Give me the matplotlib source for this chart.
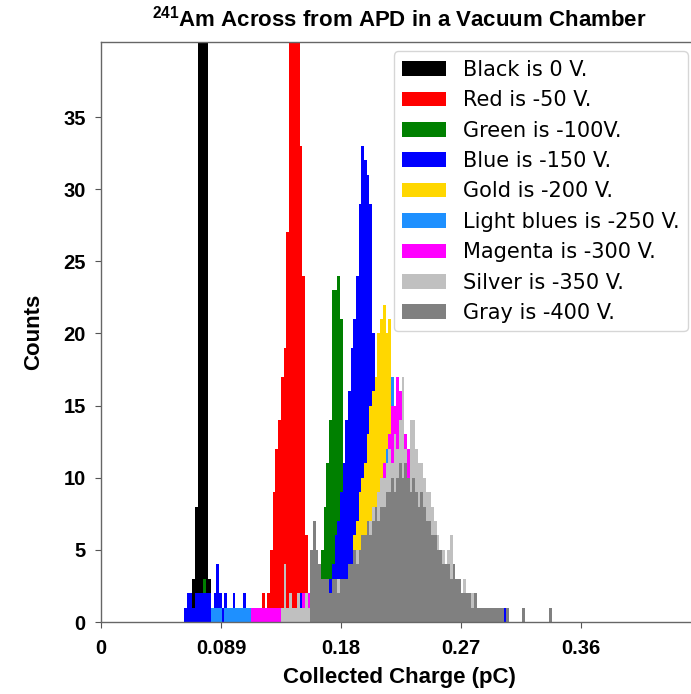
import matplotlib
matplotlib.use("Agg")
import matplotlib.pyplot as plt

plt.rcParams["mathtext.fontset"] = "custom"
plt.rcParams["mathtext.rm"] = "Liberation Sans:bold"
plt.rcParams["mathtext.bf"] = "Liberation Sans:bold"

BIN = 0.002  # histogram bin width (pC)

labels = ["Black is 0 V.", "Red is -50 V.", "Green is -100V.", "Blue is -150 V.",
          "Gold is -200 V.", "Light blues is -250 V.", "Magenta is -300 V.",
          "Silver is -350 V.", "Gray is -400 V."]
colors = ["black", "red", "green", "blue", "gold", "dodgerblue", "magenta",
          "silver", "gray"]

# counts per bin, given as (left edge of first bin, counts) pieces
black = [(0.066, [1, 3, 8, 44, 75, 62, 42, 3])]
red = [(0.114, [1, 0, 1, 2, 1, 2, 5, 9, 12, 14, 17, 19, 27, 48, 63, 58, 45,
                33, 24, 6, 2])]
green = [(0.076, [3]),
         (0.154, [2, 2, 1, 1, 2, 5, 8, 11, 14, 23, 23, 24, 21, 3, 1])]
blue = [(0.062, [1, 2, 2, 1, 2, 2, 2, 2, 2, 2, 1, 2, 4, 2, 1, 2, 1, 1, 2, 1,
                 1, 1, 2, 1, 1, 1, 0, 1, 1, 0, 1, 1, 1, 0, 1, 1, 1, 1, 0, 1,
                 1, 1, 1, 2, 1, 2, 2, 1, 2, 1, 2, 2]),
        (0.166, [2, 3, 3, 4, 6, 7, 9, 11, 14, 16, 19, 21, 24, 29, 33, 32, 31,
                 29, 20, 5, 1]),
        (0.300, [1])]
gold = [(0.182, [2, 3, 4, 6, 7, 9, 10, 11, 13, 15, 16, 17, 20, 21, 22, 20, 21,
                 15, 5, 2])]
light_blue = [(0.082, [1, 1, 1, 1, 0, 1, 1, 1, 1, 1, 1, 1, 1, 1, 1]),
              (0.196, [2, 3, 4, 5, 6, 8, 9, 10, 12, 13, 17, 13, 12, 10, 8, 6,
                       4, 2, 1])]
magenta = [(0.112, [1, 1, 1, 1, 1, 1, 1, 1, 1, 1, 1]),
           (0.150, [2, 0, 2]),
           (0.188, [1, 2, 2, 3, 4, 5, 6, 7, 8, 9, 10, 11, 11, 13, 15, 15, 17,
                    16, 13, 13, 12, 7, 4, 2, 1])]
silver = [(0.134, [1, 4, 1, 2, 1, 1, 2, 1, 1, 2, 1,
                   1, 1, 2, 1, 2, 2, 3, 2, 3, 2,
                   3, 3, 3, 3, 4, 4, 5, 5, 5, 6,
                   6, 7, 7, 8, 8, 9, 10, 10, 11, 12,
                   11, 13, 12, 14, 17, 12, 10, 14, 14, 12,
                   11, 11, 10, 9, 9, 8, 7, 6, 5, 5,
                   4, 5, 6, 4, 3, 3, 2, 3, 2, 1,
                   2, 1, 1, 0, 1])]
gray = [(0.156, [5, 7, 5, 4, 3, 3, 3, 2, 3, 3,
                 2, 3, 3, 3, 4, 4, 5, 4, 5, 6,
                 6, 7, 6, 7, 8, 7, 8, 8, 9, 9,
                 10, 9, 10, 11, 10, 11, 10, 9, 10, 9,
                 8, 9, 8, 7, 7, 6, 6, 5, 5, 4,
                 4, 4, 3, 4, 3, 3, 2, 2, 2, 2,
                 1, 2, 1, 1, 1, 1, 1, 1, 1, 1,
                 1, 1, 0, 1]),
        (0.314, [1]),
        (0.334, [1])]

series = [black, red, green, blue, gold, light_blue, magenta, silver, gray]

xticks = [0, 0.0894, 0.1788, 0.2682, 0.3576]
xtick_labels = ["0", "0.089", "0.18", "0.27", "0.36"]
yticks = [0, 5, 10, 15, 20, 25, 30, 35]

fig = plt.figure(figsize=(6.91, 6.94), dpi=100)
ax = fig.add_axes([101 / 691, 72 / 694, 596 / 691, 580 / 694])

for pieces, c, lab in zip(series, colors, labels):
    xs, hs = [], []
    for start, counts in pieces:
        for i, n in enumerate(counts):
            xs.append(start + i * BIN)
            hs.append(n)
    ax.bar(xs, hs, width=BIN, align="edge", color=c, linewidth=0, label=lab)

ax.set_xlim(0, 0.4441)
ax.set_ylim(0, 40.2)
ax.set_xticks(xticks)
ax.set_xticklabels(xtick_labels)
ax.set_yticks(yticks)

bold = {"family": "Liberation Sans", "weight": "bold"}
for t in ax.get_xticklabels() + ax.get_yticklabels():
    t.set_fontfamily("Liberation Sans")
    t.set_fontweight("bold")
    t.set_fontsize(14.5)
ax.tick_params(axis="x", length=4, pad=8, color="#555555")
ax.tick_params(axis="y", length=4, pad=7, color="#555555")
for s in ax.spines.values():
    s.set_color("#666666")
    s.set_linewidth(1)

ax.set_xlabel("Collected Charge (pC)", fontdict=bold, fontsize=16, labelpad=7)
ax.set_ylabel("Counts", fontdict=bold, fontsize=16, labelpad=14)
ax.set_title(r"$^{\mathbf{241}}$Am Across from APD in a Vacuum Chamber",
             fontdict=bold, fontsize=16, pad=11)

ax.legend(loc="upper right", prop={"family": "DejaVu Sans", "size": 15},
          handlelength=2.1, handletextpad=0.8, borderaxespad=0.45)

fig.savefig("out.png", dpi=100)
